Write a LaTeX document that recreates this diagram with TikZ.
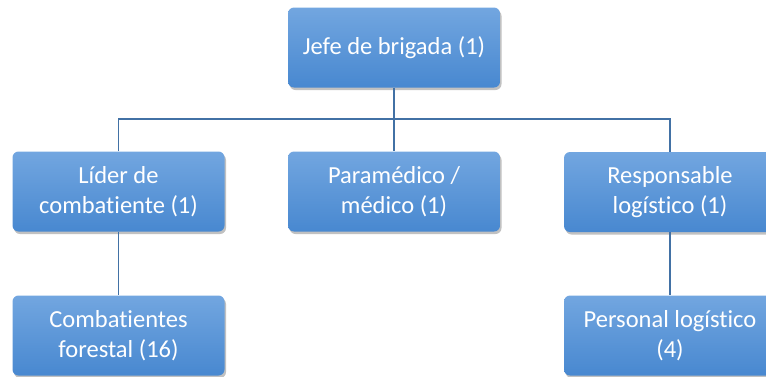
\documentclass[tikz,border=0pt]{standalone}
\usepackage{fontspec}
\setmainfont[Ligatures=NoCommon]{Carlito}
\usetikzlibrary{shadows}
\definecolor{linec}{RGB}{66,113,165}
\definecolor{boxtop}{RGB}{114,166,224}
\definecolor{boxbot}{RGB}{72,136,208}
\tikzset{
  orgbox/.style={rectangle, rounded corners=6pt, minimum width=212pt, minimum height=80pt,
    top color=boxtop, bottom color=boxbot, draw=none, text=white, align=center,
    font=\fontsize{24.5}{30}\selectfont,
    drop shadow={shadow xshift=1.5pt, shadow yshift=-2.5pt, opacity=0.35, fill=black!70}},
  link/.style={draw=linec, line width=1.6pt}
}
\begin{document}
\begin{tikzpicture}[x=1pt,y=-1pt]
\useasboundingbox (0,0) rectangle (766,376);
\clip (0,0) rectangle (766,376);
\node[orgbox] (jefe) at (394,47.5) {Jefe de brigada (1)};
\node[orgbox] (lider) at (118.5,191.5) {Líder de\\combatiente (1)};
\node[orgbox] (para) at (394,191.5) {Paramédico /\\médico (1)};
\node[orgbox] (resp) at (670,192) {Responsable\\logístico (1)};
\node[orgbox] (comb) at (118.5,335.5) {Combatientes\\forestal (16)};
\node[orgbox] (pers) at (670,335.5) {Personal logístico\\(4)};
\coordinate (bus) at (394,119);
\path[link] (jefe.south) -- (bus);
\path[link] (lider.north) |- (bus) -| (resp.north);
\path[link] (bus) -- (para.north);
\path[link] (lider.south) -- (comb.north);
\path[link] (resp.south) -- (pers.north);
\end{tikzpicture}
\end{document}
